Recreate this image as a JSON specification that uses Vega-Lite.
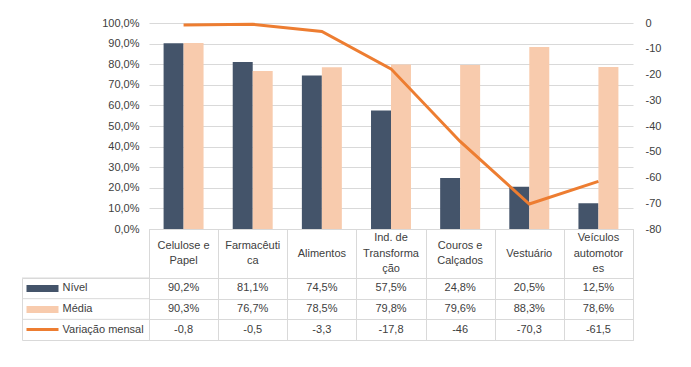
{
  "$schema": "https://vega.github.io/schema/vega-lite/v6.json",
  "background": "white",
  "padding": {"left": 21, "top": 17, "right": 10, "bottom": 10},
  "datasets": {
    "vals": [
      {"cat": "Celulose e Papel", "serie": "Nível", "value": 90.2},
      {"cat": "Farmacêutica", "serie": "Nível", "value": 81.1},
      {"cat": "Alimentos", "serie": "Nível", "value": 74.5},
      {"cat": "Ind. de Transformação", "serie": "Nível", "value": 57.5},
      {"cat": "Couros e Calçados", "serie": "Nível", "value": 24.8},
      {"cat": "Vestuário", "serie": "Nível", "value": 20.5},
      {"cat": "Veículos automotores", "serie": "Nível", "value": 12.5},
      {"cat": "Celulose e Papel", "serie": "Média", "value": 90.3},
      {"cat": "Farmacêutica", "serie": "Média", "value": 76.7},
      {"cat": "Alimentos", "serie": "Média", "value": 78.5},
      {"cat": "Ind. de Transformação", "serie": "Média", "value": 79.8},
      {"cat": "Couros e Calçados", "serie": "Média", "value": 79.6},
      {"cat": "Vestuário", "serie": "Média", "value": 88.3},
      {"cat": "Veículos automotores", "serie": "Média", "value": 78.6},
      {"cat": "Celulose e Papel", "serie": "Variação mensal", "value": -0.8},
      {"cat": "Farmacêutica", "serie": "Variação mensal", "value": -0.5},
      {"cat": "Alimentos", "serie": "Variação mensal", "value": -3.3},
      {"cat": "Ind. de Transformação", "serie": "Variação mensal", "value": -17.8},
      {"cat": "Couros e Calçados", "serie": "Variação mensal", "value": -46},
      {"cat": "Vestuário", "serie": "Variação mensal", "value": -70.3},
      {"cat": "Veículos automotores", "serie": "Variação mensal", "value": -61.5}
    ],
    "cats": [
      {"cat": "Celulose e Papel", "header": "Celulose e\nPapel"},
      {"cat": "Farmacêutica", "header": "Farmacêuti\nca"},
      {"cat": "Alimentos", "header": "Alimentos"},
      {"cat": "Ind. de Transformação", "header": "Ind. de\nTransforma\nção"},
      {"cat": "Couros e Calçados", "header": "Couros e\nCalçados"},
      {"cat": "Vestuário", "header": "Vestuário"},
      {"cat": "Veículos automotores", "header": "Veículos\nautomotor\nes"}
    ]
  },
  "columns": 2,
  "spacing": 0,
  "bounds": "flush",
  "align": "each",
  "concat": [
    {
      "width": 127, "height": 206,
      "data": {"values": []},
      "mark": "text",
      "encoding": {}
    },
    {
      "width": 484, "height": 206,
      "data": {"name": "vals"},
      "layer": [
        {
          "transform": [{"filter": "datum.serie !== 'Variação mensal'"}],
          "mark": {"type": "bar"},
          "encoding": {
            "x": {"field": "cat", "type": "nominal", "sort": ["Celulose e Papel", "Farmacêutica", "Alimentos", "Ind. de Transformação", "Couros e Calçados", "Vestuário", "Veículos automotores"], "scale": {"type": "band", "paddingInner": 0, "paddingOuter": 0}, "axis": null},
            "xOffset": {"field": "serie", "type": "nominal", "sort": ["Nível", "Média"], "scale": {"paddingInner": 0, "paddingOuter": 0.73}},
            "y": {"field": "value", "type": "quantitative", "scale": {"domain": [0, 100], "nice": false},
              "axis": {"values": [0, 10, 20, 30, 40, 50, 60, 70, 80, 90, 100], "labelExpr": "format(datum.value, '.1f') + '%'", "grid": true, "gridColor": "#D9D9D9", "domain": false, "ticks": false, "labelPadding": 10, "title": null, "labelColor": "#404040", "labelFontSize": 11}},
            "color": {"field": "serie", "type": "nominal", "scale": {"domain": ["Nível", "Média"], "range": ["#44546A", "#F8CBAD"]}, "legend": null}
          }
        },
        {
          "transform": [{"filter": "datum.serie === 'Variação mensal'"}],
          "mark": {"type": "line", "color": "#ED7D31", "strokeWidth": 3},
          "encoding": {
            "x": {"field": "cat", "type": "nominal", "sort": ["Celulose e Papel", "Farmacêutica", "Alimentos", "Ind. de Transformação", "Couros e Calçados", "Vestuário", "Veículos automotores"], "axis": null},
            "y": {"field": "value", "type": "quantitative", "scale": {"domain": [-80, 0], "nice": false},
              "axis": {"orient": "right", "values": [-80, -70, -60, -50, -40, -30, -20, -10, 0], "format": "d", "grid": false, "domain": false, "ticks": false, "labelPadding": 12, "title": null, "labelColor": "#404040", "labelFontSize": 11}}
          }
        }
      ],
      "resolve": {"scale": {"y": "independent"}}
    },
    {
      "width": 127, "height": 49,
      "data": {"values": []},
      "mark": "text",
      "encoding": {}
    },
    {
      "width": 484, "height": 49,
      "data": {"name": "cats"},
      "view": {"stroke": "#D9D9D9"},
      "mark": {"type": "text", "lineBreak": "\n", "lineHeight": 15.5, "fontSize": 11, "color": "#404040", "baseline": "middle",
        "dy": {"expr": "-(length(split(datum.header, '\\n')) - 1) * 7.75"}},
      "encoding": {
        "x": {"field": "cat", "type": "nominal", "sort": ["Celulose e Papel", "Farmacêutica", "Alimentos", "Ind. de Transformação", "Couros e Calçados", "Vestuário", "Veículos automotores"], "scale": {"type": "band", "paddingInner": 0, "paddingOuter": 0},
          "axis": {"orient": "top", "tickBand": "extent", "grid": true, "gridColor": "#D9D9D9", "labels": false, "ticks": false, "domain": false, "title": null}},
        "text": {"field": "header"}
      }
    },
    {
      "width": 127, "height": 62,
      "data": {"name": "vals"},
      "transform": [{"filter": "datum.cat === 'Celulose e Papel'"}],
      "view": {"stroke": "#D9D9D9"},
      "mark": {"type": "rule", "color": "#D9D9D9"},
      "encoding": {
        "y": {"field": "serie", "type": "nominal", "sort": ["Nível", "Média", "Variação mensal"], "bandPosition": 0, "scale": {"type": "band", "paddingInner": 0, "paddingOuter": 0},
          "axis": {"orient": "left", "offset": -36, "domain": false, "ticks": true, "tickSize": 32, "labelPadding": -36, "labelAlign": "left", "labelBaseline": "middle", "labelFontSize": 11, "labelColor": "#404040", "title": null, "grid": false,
            "tickColor": {"condition": [{"test": "datum.value === 'Nível'", "value": "#44546A"}, {"test": "datum.value === 'Média'", "value": "#F8CBAD"}], "value": "#ED7D31"},
            "tickWidth": {"condition": {"test": "datum.value === 'Variação mensal'", "value": 3}, "value": 7}}}
      }
    },
    {
      "width": 484, "height": 62,
      "data": {"name": "vals"},
      "transform": [{"calculate": "datum.serie === 'Variação mensal' ? format(datum.value, '~g') : format(datum.value, '.1f') + '%'", "as": "txt"}],
      "view": {"stroke": "#D9D9D9"},
      "mark": {"type": "text", "fontSize": 11, "color": "#404040", "baseline": "middle"},
      "encoding": {
        "x": {"field": "cat", "type": "nominal", "sort": ["Celulose e Papel", "Farmacêutica", "Alimentos", "Ind. de Transformação", "Couros e Calçados", "Vestuário", "Veículos automotores"], "scale": {"type": "band", "paddingInner": 0, "paddingOuter": 0},
          "axis": {"orient": "top", "tickBand": "extent", "grid": true, "gridColor": "#D9D9D9", "labels": false, "ticks": false, "domain": false, "title": null}},
        "y": {"field": "serie", "type": "nominal", "sort": ["Nível", "Média", "Variação mensal"], "scale": {"type": "band", "paddingInner": 0, "paddingOuter": 0},
          "axis": {"tickBand": "extent", "grid": true, "gridColor": "#D9D9D9", "labels": false, "ticks": false, "domain": false, "title": null}},
        "text": {"field": "txt"}
      }
    }
  ],
  "config": {
    "view": {"stroke": null},
    "font": "Liberation Sans",
    "locale": {"number": {"decimal": ",", "thousands": ".", "grouping": [3], "currency": ["R$", ""], "minus": "-"}}
  }
}
